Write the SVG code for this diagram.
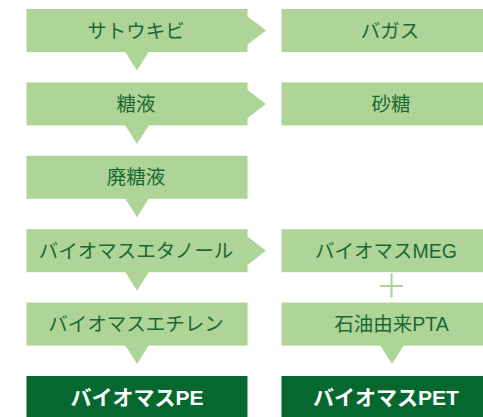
<svg xmlns="http://www.w3.org/2000/svg" width="483" height="417" viewBox="0 0 483 417">
<defs>
<style>
.box{fill:#aed597}
.dark{fill:#05692f}
.arr{fill:#aed597}
.t{font-family:"Liberation Sans","Noto Sans CJK JP",sans-serif;font-size:19.5px;fill:#1b6833;text-anchor:middle;dominant-baseline:central}
.tb{font-family:"Liberation Sans","Noto Sans CJK JP",sans-serif;font-size:21px;font-weight:bold;fill:#ffffff;text-anchor:middle;dominant-baseline:central}
.plus{stroke:#aed597;stroke-width:2.2;fill:none}
</style>
</defs>
<rect width="483" height="417" fill="#ffffff"/>
<g id="connectors">
<polygon class="arr" points="247,16 266,30.5 247,45"/>
<polygon class="arr" points="247,89.4 266,103.9 247,118.4"/>
<polygon class="arr" points="247,236.2 266,250.7 247,265.2"/>
<polygon class="arr" points="125,51.5 149,51.5 137,70.5"/>
<polygon class="arr" points="125,124.9 149,124.9 137,143.9"/>
<polygon class="arr" points="125,198.3 149,198.3 137,217.3"/>
<polygon class="arr" points="125,271.7 149,271.7 137,290.7"/>
<polygon class="arr" points="125,345.1 149,345.1 137,364.1"/>
<polygon class="arr" points="380,345.1 404,345.1 392,364.1"/>
<path class="plus" d="M380,286 H403 M391.5,273.5 V297.5"/>
</g>
<g id="n1"><rect class="box" x="26.5" y="9" width="221" height="43"/><text class="t" x="136" y="30.5">サトウキビ</text></g>
<g id="n2"><rect class="box" x="281.5" y="9" width="221" height="43"/><text class="t" x="390" y="30.5">バガス</text></g>
<g id="n3"><rect class="box" x="26.5" y="82.4" width="221" height="43"/><text class="t" x="136" y="103.9">糖液</text></g>
<g id="n4"><rect class="box" x="281.5" y="82.4" width="221" height="43"/><text class="t" x="391" y="103.9">砂糖</text></g>
<g id="n5"><rect class="box" x="26.5" y="155.8" width="221" height="43"/><text class="t" x="136" y="177.3">廃糖液</text></g>
<g id="n6"><rect class="box" x="26.5" y="229.2" width="221" height="43"/><text class="t" x="136" y="250.7">バイオマスエタノール</text></g>
<g id="n7"><rect class="box" x="281.5" y="229.2" width="221" height="43"/><text class="t" x="386" y="250.7">バイオマスMEG</text></g>
<g id="n8"><rect class="box" x="26.5" y="302.6" width="221" height="43"/><text class="t" x="136" y="324.1">バイオマスエチレン</text></g>
<g id="n9"><rect class="box" x="281.5" y="302.6" width="221" height="43"/><text class="t" x="391.5" y="324.1">石油由来PTA</text></g>
<g id="n10"><rect class="dark" x="26.5" y="376" width="221" height="43"/><text class="tb" x="137" y="397.5">バイオマスPE</text></g>
<g id="n11"><rect class="dark" x="281.5" y="376" width="221" height="43"/><text class="tb" x="386" y="397.5">バイオマスPET</text></g>
</svg>
